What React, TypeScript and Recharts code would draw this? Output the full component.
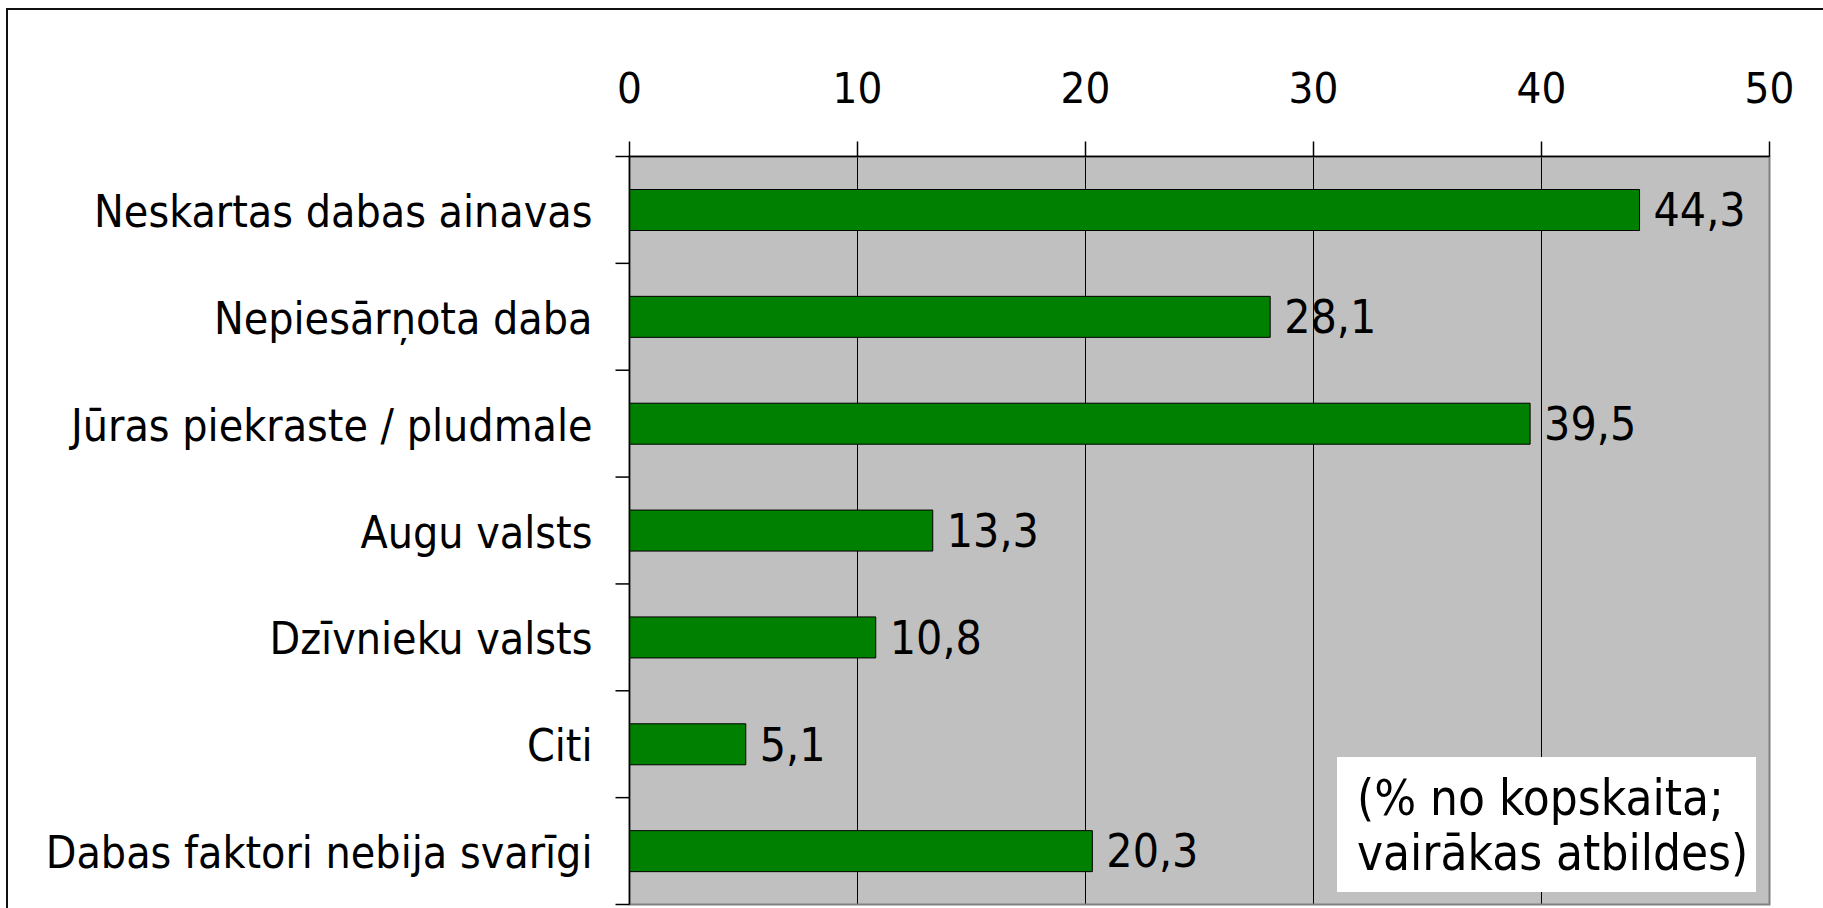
import { BarChart, Bar, XAxis, YAxis, CartesianGrid, LabelList, ReferenceArea } from 'recharts';

const categories = [
  'Neskartas dabas ainavas',
  'Nepiesārņota daba',
  'Jūras piekraste / pludmale',
  'Augu valsts',
  'Dzīvnieku valsts',
  'Citi',
  'Dabas faktori nebija svarīgi',
];
const shares = [44.3, 28.1, 39.5, 13.3, 10.8, 5.1, 20.3];
const xTicks = [0, 10, 20, 30, 40, 50];
const noteLines = ['(% no kopskaita;', 'vairākas atbildes)'];

const chartData = categories.map((name, i) => ({ name, value: shares[i] }));

const FONT = '"DejaVu Sans Condensed", "DejaVu Sans", sans-serif';
const LABEL_MARGIN = 37;

// category label plus Excel-style tick marks on the band edges
function CategoryTick(props: any) {
  const { x, y, payload, index, visibleTicksCount, height } = props;
  const half = payload?.offset ? payload.offset : height / visibleTicksCount / 2;
  const lineX = x + LABEL_MARGIN;
  return (
    <g>
      <text x={x} y={y} dy={17} textAnchor="end" fontFamily={FONT} fontSize={44.3} fill="#000">
        {payload.value}
      </text>
      <line x1={lineX - 14} x2={lineX} y1={y - half} y2={y - half} stroke="#000" strokeWidth={1.5} />
      {index === visibleTicksCount - 1 && (
        <line x1={lineX - 14} x2={lineX} y1={y + half} y2={y + half} stroke="#000" strokeWidth={1.5} />
      )}
    </g>
  );
}

export default function App() {
  return (
    <div style={{ position: 'absolute', left: 0, top: 0, width: 1823, height: 908, overflow: 'hidden', background: '#fff' }}>
      <div
        style={{
          position: 'absolute',
          left: 6,
          top: 8,
          width: 2000,
          height: 1000,
          borderLeft: '2px solid #111',
          borderTop: '2px solid #111',
        }}
      />
      <div style={{ position: 'absolute', left: 0, top: 0 }}>
        <BarChart
          width={1823}
          height={908}
          data={chartData}
          layout="vertical"
          margin={{ top: 96.5, right: 53.5, bottom: 3.5, left: 0 }}
          barSize={41}
        >
          <CartesianGrid fill="#c0c0c0" horizontal={false} stroke="#000" strokeWidth={1} />
          <ReferenceArea x1={0} x2={50} fill="none" stroke="#808080" strokeWidth={2} ifOverflow="visible" />
          <Bar dataKey="value" fill="#008000" stroke="#000" strokeWidth={1} isAnimationActive={false}>
            <LabelList
              dataKey="value"
              position="right"
              offset={14}
              formatter={(v: any) => String(v).replace('.', ',')}
              style={{ fontFamily: FONT, fontSize: 46, fill: '#000' }}
            />
          </Bar>
          <XAxis
            type="number"
            orientation="top"
            domain={[0, 50]}
            ticks={xTicks}
            height={60}
            tickSize={15}
            tickMargin={39}
            axisLine={{ stroke: '#000', strokeWidth: 1.5 }}
            tickLine={{ stroke: '#000', strokeWidth: 1.5 }}
            tick={{ fontFamily: FONT, fontSize: 43.5, fill: '#000' }}
          />
          <YAxis
            type="category"
            dataKey="name"
            width={629.5}
            tickSize={0}
            tickMargin={LABEL_MARGIN}
            tickLine={false}
            axisLine={{ stroke: '#000', strokeWidth: 1.5 }}
            tick={<CategoryTick />}
            interval={0}
          />
        </BarChart>
      </div>
      <div
        style={{
          position: 'absolute',
          left: 1337,
          top: 757,
          width: 419,
          height: 135,
          background: '#fff',
          boxSizing: 'border-box',
          paddingLeft: 20,
          paddingTop: 13.5,
          fontFamily: FONT,
          fontSize: 49,
          lineHeight: '55px',
          color: '#000',
          whiteSpace: 'nowrap',
        }}
      >
        {noteLines.map((line) => (
          <div key={line}>{line}</div>
        ))}
      </div>
    </div>
  );
}
